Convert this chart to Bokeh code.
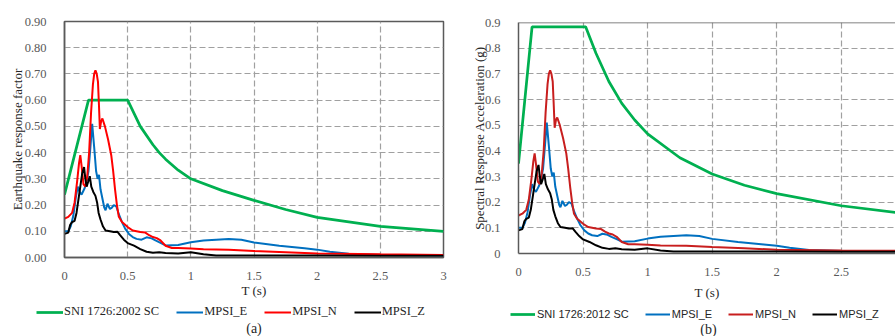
from bokeh.plotting import figure
from bokeh.layouts import row, column
from bokeh.models import (Legend, LegendItem, Label, Span, FixedTicker, Range1d,
                          CustomJSTickFormatter)
from bokeh.embed import file_html
from bokeh.resources import INLINE

# ---------------- data ----------------
T_sni2002 = [0, 0.19, 0.5, 0.6, 0.7, 0.75, 0.8, 0.9, 1.0, 1.25, 1.5, 1.75, 2.0, 2.5, 3.0]
C_sni2002 = [0.24, 0.60, 0.60, 0.50, 0.43, 0.40, 0.375, 0.333, 0.30, 0.255, 0.218, 0.183, 0.153, 0.119, 0.10]

T_sni2012 = [0, 0.105, 0.52, 0.6, 0.7, 0.8, 0.9, 1.0, 1.25, 1.5, 1.75, 2.0, 2.5, 3.0]
Sa_sni2012 = [0.35, 0.883, 0.883, 0.78, 0.67, 0.585, 0.52, 0.466, 0.373, 0.31, 0.266, 0.233, 0.186, 0.155]

T_E = [0, 0.03, 0.05, 0.07, 0.09, 0.105, 0.12, 0.135, 0.145, 0.16, 0.175, 0.19, 0.205, 0.219,
       0.235, 0.25, 0.262, 0.273, 0.285, 0.3, 0.315, 0.325, 0.34, 0.36, 0.375, 0.39, 0.41, 0.43,
       0.455, 0.48, 0.51, 0.54, 0.57, 0.61, 0.65, 0.69, 0.72, 0.76, 0.8, 0.9, 1.0, 1.1, 1.2,
       1.3, 1.4, 1.5, 1.7, 1.9, 2.0, 2.1, 2.25, 2.5, 3.0]
MPSI_E = [0.10, 0.10, 0.12, 0.16, 0.23, 0.27, 0.25, 0.24, 0.25, 0.265, 0.29, 0.33, 0.42, 0.51,
          0.42, 0.33, 0.30, 0.315, 0.26, 0.225, 0.19, 0.18, 0.205, 0.185, 0.19, 0.20, 0.195, 0.165,
          0.135, 0.11, 0.09, 0.078, 0.071, 0.068, 0.077, 0.073, 0.065, 0.056, 0.046, 0.048, 0.058,
          0.065, 0.068, 0.071, 0.068, 0.057, 0.045, 0.035, 0.03, 0.022, 0.014, 0.01, 0.008]

T_N = [0, 0.03, 0.06, 0.08, 0.1, 0.115, 0.125, 0.135, 0.15, 0.165, 0.18, 0.195, 0.21, 0.225,
       0.235, 0.245, 0.255, 0.265, 0.272, 0.28, 0.29, 0.3, 0.32, 0.345, 0.37, 0.385, 0.4, 0.415,
       0.43, 0.455, 0.5, 0.54, 0.6, 0.64, 0.67, 0.7, 0.73, 0.76, 0.8, 0.85, 0.9, 1.0, 1.1, 1.3,
       1.5, 1.75, 2.0, 2.5, 3.0]
MPSI_N = [0.148, 0.155, 0.17, 0.21, 0.29, 0.36, 0.39, 0.35, 0.28, 0.27, 0.31, 0.40, 0.55, 0.66,
          0.70, 0.714, 0.70, 0.67, 0.59, 0.49, 0.52, 0.53, 0.50, 0.45, 0.39, 0.33, 0.26, 0.20,
          0.155, 0.135, 0.116, 0.103, 0.097, 0.095, 0.085, 0.078, 0.074, 0.065, 0.045, 0.036,
          0.036, 0.034, 0.031, 0.03, 0.025, 0.02, 0.015, 0.012, 0.01]

T_Z = [0, 0.03, 0.045, 0.06, 0.08, 0.095, 0.11, 0.125, 0.14, 0.155, 0.165, 0.175, 0.188, 0.2,
       0.212, 0.228, 0.245, 0.258, 0.27, 0.285, 0.305, 0.325, 0.36, 0.39, 0.42, 0.44, 0.47, 0.5,
       0.55, 0.6, 0.65, 0.7, 0.75, 0.8, 0.9, 1.0, 1.1, 1.2, 1.5, 2.0, 2.5, 3.0]
MPSI_Z = [0.09, 0.095, 0.125, 0.135, 0.14, 0.17, 0.22, 0.27, 0.32, 0.345, 0.30, 0.27, 0.29, 0.31,
          0.27, 0.25, 0.235, 0.21, 0.17, 0.145, 0.118, 0.103, 0.10, 0.097, 0.098, 0.085, 0.068,
          0.055, 0.045, 0.032, 0.022, 0.018, 0.02, 0.017, 0.015, 0.02, 0.012, 0.008, 0.008, 0.008,
          0.007, 0.007]

x_ticks = [0, 0.5, 1, 1.5, 2, 2.5, 3]
y_ticks = [0, 0.1, 0.2, 0.3, 0.4, 0.5, 0.6, 0.7, 0.8, 0.9]
labels_a = ["SNI 1726:2002 SC", "MPSI_E", "MPSI_N", "MPSI_Z"]
labels_b = ["SNI 1726:2012 SC", "MPSI_E", "MPSI_N", "MPSI_Z"]

GREEN = "#00b050"
BLUE = "#0070c0"
RED_A = "#ff0000"
RED_B = "#c81e1e"
BLACK = "#000000"
GRID = "#a0a0a0"
BORDER = "#5a5a5a"
SERIF = "Liberation Serif"
NAN = float("nan")


def base_fig(width, mb_left, mb_right, mb_top, mb_bottom, x_end, y_label, y_fmt, xl_standoff, yl_standoff):
    p = figure(width=width, height=302, output_backend="svg", toolbar_location=None,
               x_range=Range1d(0, x_end), y_range=Range1d(0, 0.9),
               min_border_left=mb_left, min_border_right=mb_right,
               min_border_top=mb_top, min_border_bottom=mb_bottom)
    p.frame_align = False
    p.background_fill_color = "white"
    p.border_fill_color = "white"
    p.xaxis.ticker = FixedTicker(ticks=x_ticks)
    p.yaxis.ticker = FixedTicker(ticks=y_ticks)
    p.xaxis.formatter = CustomJSTickFormatter(code="return String(tick);")
    p.yaxis.formatter = CustomJSTickFormatter(code=y_fmt)
    for ax in (p.xaxis[0], p.yaxis[0]):
        ax.major_tick_line_color = None
        ax.minor_tick_line_color = None
        ax.axis_line_color = BORDER
        ax.axis_line_width = 1.5
        ax.major_label_text_font = SERIF
        ax.major_label_text_font_size = "12.5px"
        ax.major_label_text_color = "#595959"
        ax.axis_label_text_font = SERIF
        ax.axis_label_text_font_size = "13px"
        ax.axis_label_text_font_style = "normal"
        ax.axis_label_text_color = "#262626"
    p.xaxis.axis_label = "T (s)"
    p.yaxis.axis_label = y_label
    p.xaxis.major_label_standoff = 8
    p.yaxis.major_label_standoff = 12
    p.xaxis.axis_label_standoff = xl_standoff
    p.yaxis.axis_label_standoff = yl_standoff
    p.xgrid.ticker = FixedTicker(ticks=[0.5, 1, 1.5, 2, 2.5])
    p.ygrid.ticker = FixedTicker(ticks=[0.1, 0.2, 0.3, 0.4, 0.5, 0.6, 0.7, 0.8])
    for g in (p.xgrid[0], p.ygrid[0]):
        g.grid_line_color = GRID
        g.grid_line_dash = "6 3"
        g.grid_line_width = 1.2
    return p


def footer(width, height, colors, widths, labels, loc, font, size, gw, standoff, spacing,
           caption, cap_x, cap_y):
    f = figure(width=width, height=height, output_backend="svg", toolbar_location=None,
               x_range=Range1d(0, width), y_range=Range1d(0, height),
               x_axis_type=None, y_axis_type=None, min_border=0)
    f.frame_align = False
    f.outline_line_color = None
    f.xgrid.visible = False
    f.ygrid.visible = False
    items = []
    for c, w, lab in zip(colors, widths, labels):
        # legend swatch only: a single undefined point draws nothing in the frame
        r = f.line(x=[NAN], y=[NAN], line_color=c, line_width=w)
        items.append(LegendItem(label=lab, renderers=[r]))
    leg = Legend(items=items, orientation="horizontal", location=loc,
                 label_text_font=font, label_text_font_size=size, label_text_color="#262626",
                 glyph_width=gw, glyph_height=14, label_height=14, label_standoff=standoff,
                 spacing=spacing, padding=0, margin=0, border_line_color=None,
                 background_fill_alpha=0)
    f.add_layout(leg, "center")
    f.add_layout(Label(x=cap_x, y=cap_y, text=caption, text_align="center", text_baseline="middle",
                       text_font=SERIF, text_font_size="14px", text_color="#262626"))
    return f


# ---------------- left chart (a) ----------------
p1 = base_fig(453, 64, 10, 21, 45, 3, "Earthquake response factor",
              "return tick.toFixed(2);", 0, -3)
p1.outline_line_color = BORDER
p1.outline_line_width = 1.5
p1.line(T_sni2002, C_sni2002, line_color=GREEN, line_width=2.75)
p1.line(T_E, MPSI_E, line_color=BLUE, line_width=2)
p1.line(T_N, MPSI_N, line_color=RED_A, line_width=2)
p1.line(T_Z, MPSI_Z, line_color=BLACK, line_width=2)

f1 = footer(453, 34, [GREEN, BLUE, RED_A, BLACK], [2.75, 2, 2, 2], labels_a, (36, 17),
            SERIF, "12.5px", 27, 1, 17, "(a)", 253.5, 8)

# ---------------- right chart (b) ----------------
p2 = base_fig(442, 65, 0, 22, 43, 2.92, "Spectral Response Acceleration (g)",
              "return tick === 0 ? '0' : tick.toFixed(1);", 6, -5)
p2.outline_line_color = None
p2.add_layout(Span(location=0.9, dimension="width", line_color=BORDER, line_width=1.5))
p2.line(T_sni2012, Sa_sni2012, line_color=GREEN, line_width=2.75)
p2.line(T_E, MPSI_E, line_color=BLUE, line_width=2)
p2.line(T_N, MPSI_N, line_color=RED_B, line_width=2)
p2.line(T_Z, MPSI_Z, line_color=BLACK, line_width=2)

f2 = footer(442, 34, [GREEN, BLUE, RED_B, BLACK], [2.75, 2, 2, 2], labels_b, (57, 15),
            "Liberation Sans", "11px", 25, 2, 16, "(b)", 255, 7)

layout = row(column(p1, f1), column(p2, f2))
open("out.html", "w").write(file_html(layout, INLINE))
